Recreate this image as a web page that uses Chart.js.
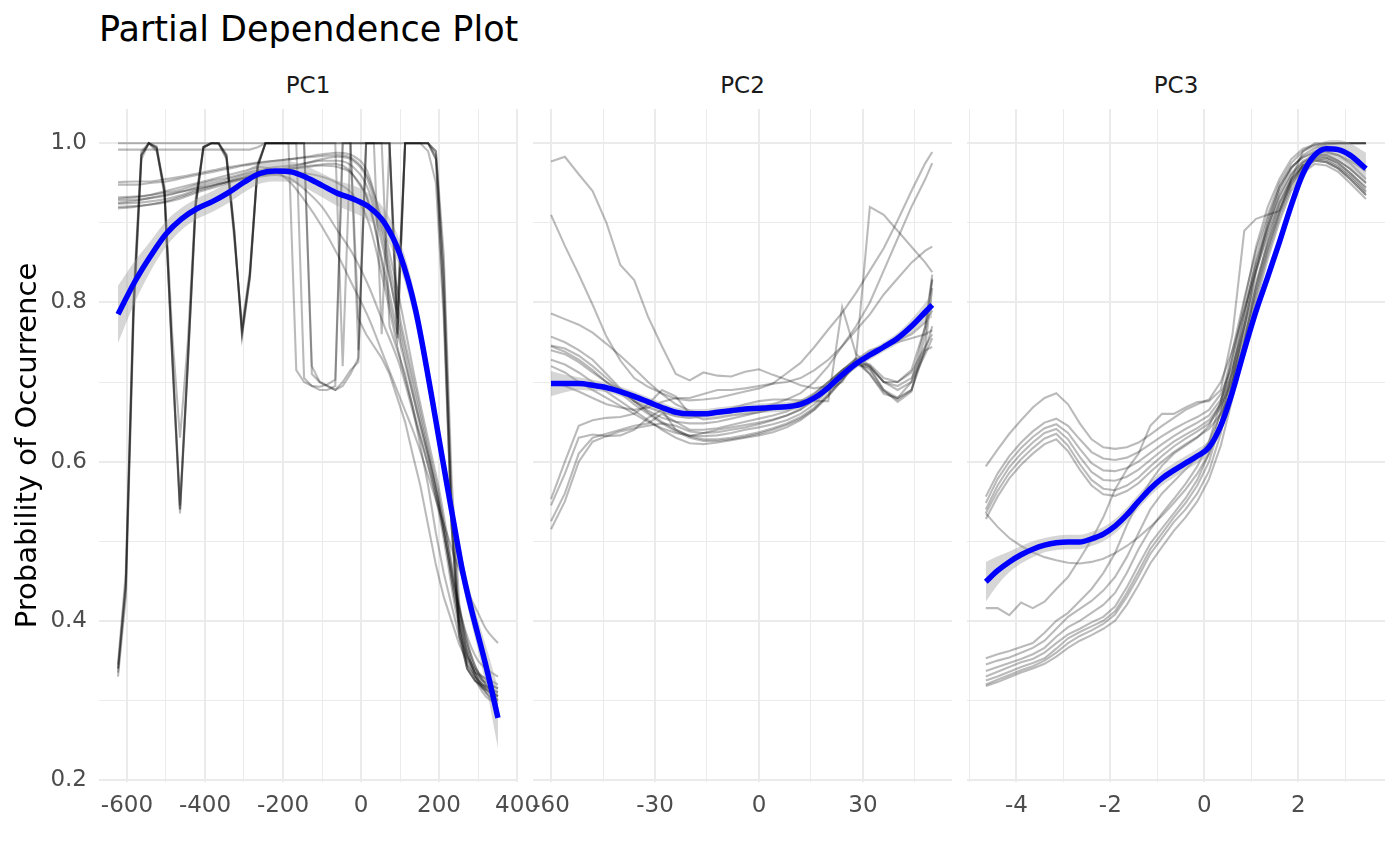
<!DOCTYPE html>
<html><head><meta charset="utf-8">
<script src="https://cdn.jsdelivr.net/npm/chart.js@4.4.1/dist/chart.umd.min.js"></script>
<style>
html,body{margin:0;padding:0;background:#fff;width:1400px;height:865px;overflow:hidden;font-family:"DejaVu Sans",sans-serif;}
.box{position:absolute;top:79px;}
#title{position:absolute;left:99px;top:12px;font-size:35px;color:#000;white-space:nowrap;line-height:35px;}
.strip{position:absolute;top:72px;font-size:23px;color:#1a1a1a;text-align:center;line-height:26px;}
</style></head><body>
<div id="title">Partial Dependence Plot</div>
<div class="strip" style="left:99px;width:418px">PC1</div>
<div class="strip" style="left:533px;width:419px">PC2</div>
<div class="strip" style="left:967px;width:418px">PC3</div>
<div class="box" style="left:0px"><canvas id="c1" width="549" height="751"></canvas></div>
<div class="box" style="left:510px"><canvas id="c2" width="452" height="751"></canvas></div>
<div class="box" style="left:950px"><canvas id="c3" width="445" height="751"></canvas></div>
<script>
// ---------- axis ticks ----------
const Y_TICKS = [0.2,0.3,0.4,0.5,0.6,0.7,0.8,0.9,1.0];
const Y_MAJOR = [0.2,0.4,0.6,0.8,1.0];
const PC1_TICKS = [-600,-500,-400,-300,-200,-100,0,100,200,300,400];
const PC1_MAJOR = [-600,-400,-200,0,200,400];
const PC2_TICKS = [-60,-45,-30,-15,0,15,30,45];
const PC2_MAJOR = [-60,-30,0,30];
const PC3_TICKS = [-5,-4,-3,-2,-1,0,1,2,3];
const PC3_MAJOR = [-4,-2,0,2];

// ---------- PC1 ----------
const PC1_X = [-623,-603,-583,-563,-544,-524,-504,-484,-464,-444,-424,-404,-384,-365,-345,-325,-305,-285,-265,-245,-225,-206,-186,-166,-146,-126,-106,-86,-66,-47,-27,-7,13,33,53,73,93,113,132,152,172,192,212,232,252,272,292,311,331,351];
const PC1_XS = [-623,-580,-540,-500,-460,-420,-380,-340,-300,-260,-220,-180,-140,-100,-60,-20,20,60,100,140,180,200,220,240,260,280,300,320,351];
const PC1_A1 = [0.335,0.44,0.79,0.985,1.0,0.995,0.94,0.73,0.535,0.72,0.92,0.995,1.0,1.0,0.985,0.89,0.757,0.83,0.97,1,1,1,1,0.715,0.70,0.695,0.694,0.697,0.703,1,1,1,1,1,1,1,0.76,1,1,1,1,0.985,0.84,0.55,0.40,0.345,0.33,0.32,0.315,0.31];
const PC1_A2 = [0.34,0.45,0.80,0.985,1.0,0.993,0.935,0.74,0.545,0.73,0.925,0.995,1.0,0.999,0.982,0.885,0.765,0.835,0.972,1,1,1,1,1,0.705,0.695,0.69,0.69,0.695,1,1,1,1,1,0.76,1,0.79,1,1,1,1,0.98,0.80,0.52,0.38,0.34,0.325,0.315,0.31,0.305];
const PC1_A3 = [0.345,0.46,0.81,0.99,1.0,0.99,0.945,0.76,0.63,0.75,0.93,0.996,1.0,1.0,0.98,0.88,0.77,0.84,0.975,1,1,1,1,1,1,1,1,1,1,0.72,1,1,1,1,1,1,0.78,1,1,1,1,0.99,0.86,0.58,0.42,0.355,0.335,0.325,0.32,0.315];
const PC1_A4 = [0.33,0.43,0.78,0.98,1.0,0.996,0.942,0.735,0.54,0.725,0.92,0.994,1.0,1.0,0.986,0.892,0.76,0.832,0.97,1,1,1,1,1,1,1,1,1,1,1,1,0.74,1,1,1,1,0.755,1,1,1,1,0.99,0.83,0.54,0.39,0.34,0.325,0.318,0.312,0.306];
const PC1_B1 = [0.34,0.445,0.795,0.985,1.0,0.994,0.938,0.728,0.54,0.722,0.922,0.995,1.0,1.0,0.984,0.888,0.762,0.834,0.971,1,1,1,1,1,1,0.71,0.70,0.695,0.69,0.70,0.715,0.725,1,1,1,1,1,1,1,1,0.99,0.95,0.78,0.52,0.39,0.345,0.33,0.32,0.315,0.31];
const PC1_D1 = [1,1,1,1,1,1,1,1,1,1,1,1,1,1,1,1,1,1,1,1,1,1,1,1,1,0.72,0.70,0.695,0.69,0.695,0.71,0.73,1,1,1,0.77,0.74,0.71,0.67,0.62,0.57,0.51,0.46,0.42,0.38,0.355,0.34,0.33,0.325,0.32];
const PC1_D2 = [0.992,0.992,0.992,0.992,0.992,0.992,0.992,0.992,0.992,0.992,0.992,0.992,0.992,0.992,0.992,0.992,0.992,0.992,0.995,1,1,1,1,1,1,1,1,1,1,1,1,0.78,0.76,0.745,0.73,0.71,0.68,0.65,0.61,0.57,0.52,0.47,0.43,0.40,0.37,0.35,0.335,0.33,0.32,0.315];
const PC1_C1 = [0.925,0.926,0.927,0.929,0.931,0.933,0.935,0.937,0.939,0.941,0.943,0.945,0.947,0.949,0.951,0.953,0.955,0.957,0.959,0.961,0.963,0.965,0.967,0.969,0.971,0.972,0.973,0.974,0.974,0.972,0.965,0.95,0.935,0.90,0.85,0.80,0.755,1,1,1,1,0.98,0.80,0.52,0.38,0.34,0.325,0.318,0.31,0.305];
const PC1_S1 = [0.951,0.952,0.952,0.955,0.958,0.962,0.966,0.970,0.973,0.976,0.978,0.980,0.982,0.984,0.985,0.980,0.955,0.89,0.80,0.70,0.61,0.565,0.51,0.45,0.40,0.36,0.335,0.32,0.305];
const PC1_S2 = [0.948,0.948,0.950,0.952,0.956,0.960,0.964,0.968,0.972,0.975,0.978,0.980,0.983,0.986,0.988,0.984,0.96,0.88,0.78,0.69,0.60,0.555,0.50,0.44,0.39,0.355,0.33,0.315,0.30];
const PC1_S3 = [0.932,0.933,0.935,0.938,0.942,0.948,0.953,0.957,0.962,0.966,0.970,0.972,0.975,0.978,0.978,0.970,0.94,0.86,0.77,0.68,0.595,0.55,0.50,0.445,0.395,0.36,0.335,0.32,0.30];
const PC1_S4 = [0.928,0.929,0.931,0.934,0.939,0.945,0.950,0.955,0.960,0.963,0.966,0.968,0.970,0.972,0.970,0.960,0.925,0.84,0.75,0.67,0.59,0.545,0.49,0.43,0.38,0.35,0.325,0.31,0.298];
const PC1_S5 = [0.924,0.925,0.927,0.930,0.935,0.942,0.947,0.952,0.957,0.960,0.962,0.963,0.962,0.958,0.950,0.935,0.90,0.82,0.73,0.655,0.58,0.535,0.48,0.42,0.375,0.345,0.32,0.305,0.295];
const PC1_S6 = [0.920,0.921,0.923,0.926,0.931,0.938,0.944,0.950,0.955,0.958,0.960,0.955,0.94,0.92,0.89,0.86,0.82,0.77,0.72,0.65,0.58,0.54,0.49,0.44,0.40,0.37,0.35,0.34,0.33];
const PC1_S7 = [0.930,0.932,0.935,0.940,0.945,0.950,0.955,0.960,0.965,0.970,0.965,0.950,0.925,0.895,0.86,0.82,0.78,0.73,0.68,0.63,0.57,0.54,0.51,0.48,0.455,0.43,0.41,0.39,0.372];
const PC1_S8 = [0.918,0.920,0.923,0.927,0.933,0.940,0.946,0.952,0.957,0.962,0.966,0.970,0.975,0.980,0.983,0.978,0.95,0.87,0.76,0.67,0.59,0.545,0.49,0.43,0.385,0.35,0.325,0.31,0.29];
const PC1_FIT = [0.785,0.826,0.858,0.886,0.905,0.918,0.927,0.938,0.951,0.962,0.965,0.964,0.957,0.947,0.937,0.930,0.920,0.900,0.860,0.790,0.685,0.628,0.572,0.517,0.463,0.420,0.382,0.344,0.278];
const PC1_LO  = [0.749,0.800,0.839,0.870,0.891,0.905,0.914,0.925,0.938,0.949,0.952,0.951,0.943,0.932,0.921,0.913,0.903,0.883,0.843,0.773,0.669,0.612,0.556,0.501,0.447,0.403,0.363,0.319,0.240];
const PC1_HI  = [0.821,0.852,0.877,0.902,0.919,0.931,0.940,0.951,0.964,0.975,0.978,0.977,0.971,0.962,0.953,0.947,0.937,0.917,0.877,0.807,0.701,0.644,0.588,0.533,0.479,0.437,0.401,0.369,0.316];

// ---------- PC2 ----------
const PC2_X = [-60,-56,-52,-48,-44,-40,-36,-32,-28,-24,-20,-16,-12,-8,-4,0,4,8,12,16,20,24,28,32,36,40,44,48,50];
const PC2_P1 = [.977,.983,.961,.94,.90,.847,.828,.782,.745,.71,.702,.712,.708,.707,.713,.716,.709,.703,.696,.692,.695,.705,.72,.735,.745,.752,.76,.775,.79];
const PC2_P2 = [.91,.871,.835,.797,.757,.727,.705,.694,.686,.679,.677,.678,.68,.684,.688,.692,.698,.711,.724,.744,.766,.787,.812,.84,.868,.903,.94,.975,.989];
const PC2_P3 = [.786,.779,.772,.762,.748,.733,.717,.70,.685,.672,.664,.66,.66,.662,.665,.668,.672,.678,.686,.70,.72,.745,.77,.80,.84,.88,.92,.955,.975];
const PC2_P4 = [.757,.75,.74,.728,.71,.692,.676,.664,.655,.65,.648,.648,.65,.654,.658,.662,.666,.67,.675,.68,.69,.70,.73,.92,.91,.89,.87,.85,.838];
const PC2_P5 = [.746,.742,.733,.72,.705,.69,.676,.668,.662,.657,.655,.658,.662,.667,.672,.676,.678,.678,.677,.676,.676,.794,.735,.72,.70,.70,.715,.77,.83];
const PC2_Q1 = [.553,.60,.645,.652,.655,.656,.66,.672,.69,.682,.66,.653,.655,.658,.66,.662,.666,.67,.676,.686,.70,.715,.728,.71,.685,.68,.70,.77,.835];
const PC2_Q2 = [.545,.585,.63,.634,.632,.633,.64,.655,.665,.64,.632,.636,.64,.643,.646,.649,.653,.658,.665,.678,.696,.714,.73,.718,.69,.675,.688,.76,.828];
const PC2_Q3 = [.525,.56,.61,.63,.635,.64,.645,.648,.66,.65,.64,.64,.642,.646,.65,.654,.658,.663,.672,.685,.70,.715,.725,.71,.688,.678,.69,.74,.77];
const PC2_Q4 = [.515,.55,.60,.625,.632,.638,.642,.645,.648,.645,.638,.636,.637,.64,.643,.647,.652,.658,.666,.68,.698,.714,.728,.74,.745,.75,.755,.76,.765];
const PC2_M1 = [.74,.735,.725,.712,.70,.69,.676,.662,.65,.64,.632,.628,.628,.63,.633,.637,.642,.648,.656,.668,.685,.705,.725,.715,.69,.68,.69,.745,.818];
const PC2_M2 = [.728,.722,.712,.70,.688,.676,.664,.652,.64,.63,.623,.622,.624,.627,.63,.633,.637,.643,.652,.665,.682,.702,.722,.718,.70,.695,.705,.74,.744];
const PC2_M3 = [.72,.712,.70,.69,.68,.67,.66,.65,.642,.636,.633,.632,.633,.636,.64,.643,.647,.652,.66,.672,.69,.708,.724,.72,.70,.69,.70,.735,.755];
const PC2_M4 = [.70,.695,.688,.68,.672,.668,.665,.668,.675,.68,.68,.685,.69,.69,.692,.695,.698,.70,.705,.715,.728,.745,.765,.785,.81,.83,.85,.865,.87];
const PC2_M5 = [.745,.738,.728,.715,.70,.686,.672,.66,.648,.638,.63,.626,.626,.628,.631,.635,.64,.646,.654,.666,.683,.703,.724,.722,.705,.70,.712,.745,.76];
const PC2_FIT = [.698,.698,.698,.696,.693,.688,.682,.675,.668,.662,.660,.660,.662,.664,.666,.667,.668,.669,.672,.680,.693,.709,.723,.734,.744,.755,.770,.788,.797];
const PC2_LO  = [.682,.687,.690,.689,.687,.682,.676,.669,.662,.656,.654,.654,.656,.658,.660,.661,.662,.663,.666,.674,.687,.703,.717,.728,.738,.748,.761,.776,.781];
const PC2_HI  = [.714,.709,.706,.703,.699,.694,.688,.681,.674,.668,.666,.666,.668,.670,.672,.673,.674,.675,.678,.686,.699,.715,.729,.740,.750,.762,.779,.800,.813];

// ---------- PC3 ----------
const PC3_X = [-4.65,-4.4,-4.15,-3.9,-3.65,-3.4,-3.15,-2.9,-2.65,-2.4,-2.15,-1.9,-1.65,-1.4,-1.15,-0.9,-0.65,-0.4,-0.15,0.1,0.35,0.6,0.85,1.1,1.35,1.6,1.85,2.1,2.35,2.6,2.85,3.1,3.44];
const PC3_U1 = [.594,.615,.635,.652,.668,.68,.686,.672,.648,.628,.618,.616,.618,.624,.634,.645,.655,.665,.672,.678,.70,.74,.79,.84,.885,.925,.955,.975,.985,.985,.978,.968,.95];
const PC3_U2 = [.556,.585,.607,.624,.638,.649,.654,.645,.628,.612,.604,.602,.605,.612,.622,.632,.641,.649,.656,.665,.685,.72,.77,.825,.875,.918,.952,.972,.98,.98,.972,.96,.94];
const PC3_U3 = [.548,.578,.60,.617,.631,.642,.647,.636,.616,.598,.589,.588,.592,.60,.611,.622,.632,.641,.649,.658,.678,.712,.762,.818,.87,.915,.95,.972,.982,.982,.975,.963,.945];
const PC3_U4 = [.54,.57,.593,.61,.624,.636,.641,.628,.606,.587,.577,.576,.581,.59,.602,.614,.625,.634,.642,.652,.672,.705,.755,.812,.866,.912,.948,.97,.98,.978,.97,.958,.938];
const PC3_U5 = [.535,.563,.586,.603,.617,.629,.635,.62,.597,.577,.566,.564,.57,.58,.594,.607,.619,.629,.638,.648,.668,.70,.75,.808,.862,.908,.945,.968,.978,.976,.968,.955,.935];
const PC3_U6 = [.528,.556,.579,.596,.61,.622,.628,.613,.59,.57,.559,.557,.563,.573,.587,.60,.612,.622,.631,.641,.66,.69,.74,.80,.855,.902,.94,.963,.974,.972,.964,.95,.93];
const PC3_ARC = [.535,.518,.504,.494,.486,.48,.476,.473,.472,.474,.478,.485,.494,.505,.518,.532,.548,.565,.585,.61,.65,.705,.77,.84,.90,.945,.97,.982,.988,.988,.985,.978,.965];
const PC3_STEP = [.416,.416,.407,.423,.416,.424,.44,.455,.478,.502,.53,.565,.59,.61,.645,.66,.66,.668,.675,.676,.69,.76,.89,.905,.91,.915,.955,.99,1,1,1,1,1];
const PC3_L1 = [.353,.358,.362,.367,.372,.385,.40,.41,.425,.44,.46,.485,.52,.55,.575,.595,.61,.62,.63,.645,.675,.73,.80,.87,.92,.955,.98,.993,.998,1,1,1,1];
const PC3_L2 = [.337,.342,.347,.352,.358,.366,.38,.392,.40,.41,.42,.435,.46,.49,.515,.535,.553,.572,.594,.625,.675,.74,.805,.865,.91,.95,.975,.99,.997,1,1,1,1];
const PC3_L3 = [.33,.336,.342,.348,.352,.36,.372,.383,.39,.398,.405,.418,.442,.47,.497,.516,.535,.554,.577,.61,.665,.73,.79,.85,.895,.94,.968,.985,.994,.998,1,1,1];
const PC3_L4 = [.325,.33,.336,.342,.347,.353,.365,.378,.386,.393,.40,.412,.435,.462,.49,.51,.53,.548,.57,.60,.65,.715,.78,.845,.895,.935,.962,.978,.985,.985,.978,.968,.95];
const PC3_L5 = [.32,.326,.332,.338,.343,.35,.36,.372,.381,.388,.396,.408,.43,.456,.484,.504,.524,.54,.56,.588,.635,.70,.77,.838,.89,.932,.96,.976,.983,.982,.975,.963,.943];
const PC3_L6 = [.318,.323,.329,.335,.34,.346,.355,.366,.375,.382,.39,.40,.42,.445,.472,.493,.513,.53,.55,.578,.62,.68,.75,.82,.878,.925,.955,.972,.978,.976,.968,.955,.935];
const PC3_L7 = [.345,.35,.354,.36,.366,.375,.39,.405,.415,.425,.438,.455,.48,.51,.54,.56,.575,.59,.605,.625,.66,.715,.785,.855,.905,.945,.97,.983,.99,.99,.985,.975,.955];
const PC3_FIT = [.449,.463,.474,.483,.49,.495,.498,.499,.499,.503,.509,.519,.533,.55,.566,.579,.589,.598,.607,.618,.645,.688,.74,.789,.832,.876,.922,.962,.985,.993,.992,.985,.968];
const PC3_LO  = [.424,.445,.461,.472,.48,.486,.489,.49,.49,.494,.50,.51,.524,.541,.557,.57,.58,.589,.598,.609,.636,.679,.731,.78,.823,.867,.913,.953,.976,.983,.98,.97,.948];
const PC3_HI  = [.474,.481,.487,.494,.50,.504,.507,.508,.508,.512,.518,.528,.542,.559,.575,.588,.598,.607,.616,.627,.654,.697,.749,.798,.841,.885,.931,.971,.994,1.003,1.004,1.0,.988];

// ---------- helpers ----------
const GRID = '#ebebeb';
const FONT = 'DejaVu Sans';
const near = (arr, v) => arr.some(m => Math.abs(m - v) < 1e-6);
const pts = (xs, ys) => xs.map((x, i) => ({x: x, y: ys[i]}));
function ice(xs, ys, smooth) {
  return {data: pts(xs, ys), borderColor: 'rgba(0,0,0,0.27)', borderWidth: 2.1, pointRadius: 0,
          fill: false, tension: 0, cubicInterpolationMode: smooth ? 'monotone' : 'default', order: 2};
}
function fitSets(xs, fit, lo, hi) {
  return [
    {data: pts(xs, fit), borderColor: '#0000ff', borderWidth: 5.5, pointRadius: 0, fill: false, cubicInterpolationMode: 'monotone', order: 0},
    {data: pts(xs, hi), borderColor: 'rgba(0,0,0,0)', borderWidth: 0, pointRadius: 0, backgroundColor: 'rgba(153,153,153,0.4)', fill: '+1', cubicInterpolationMode: 'monotone', order: 1},
    {data: pts(xs, lo), borderColor: 'rgba(0,0,0,0)', borderWidth: 0, pointRadius: 0, fill: false, cubicInterpolationMode: 'monotone', order: 1}
  ];
}
function makeChart(id, datasets, xr, xTicks, xMajor, showY, pad, yW) {
  return new Chart(document.getElementById(id), {
    type: 'line',
    data: {datasets: datasets},
    options: {
      responsive: false, animation: false, events: [],
      layout: {padding: pad},
      plugins: {legend: {display: false}, tooltip: {enabled: false}},
      scales: {
        x: {
          type: 'linear', min: xr[0], max: xr[1], bounds: 'data',
          afterBuildTicks: s => { s.ticks = xTicks.map(v => ({value: v})); },
          ticks: {autoSkip: false, maxRotation: 0, padding: 10, color: '#4d4d4d', font: {family: FONT, size: 23},
                  callback: v => near(xMajor, v) ? String(v) : ''},
          grid: {color: GRID, drawTicks: false, lineWidth: c => (c.tick && near(xMajor, c.tick.value)) ? 2 : 1},
          border: {display: false},
          afterFit: s => { s.height = 48; }
        },
        y: {
          type: 'linear', min: 0.1975, max: 1.043, bounds: 'data',
          afterBuildTicks: s => { s.ticks = Y_TICKS.map(v => ({value: v})); },
          ticks: {display: showY, padding: 12, color: '#4d4d4d', font: {family: FONT, size: 23},
                  callback: v => near(Y_MAJOR, v) ? v.toFixed(1) : ''},
          grid: {color: GRID, drawTicks: false, lineWidth: c => (c.tick && near(Y_MAJOR, c.tick.value)) ? 2 : 1},
          border: {display: false},
          title: {display: showY, text: 'Probability of Occurrence', color: '#000', font: {family: FONT, size: 29}, padding: {top: 11, bottom: 0}},
          afterFit: s => { s.width = yW; }
        }
      }
    }
  });
}

// ---------- build ----------
const pc1Sets = fitSets(PC1_XS, PC1_FIT, PC1_LO, PC1_HI)
  .concat([PC1_S1, PC1_S2, PC1_S3, PC1_S4, PC1_S5, PC1_S6, PC1_S7, PC1_S8].map(s => ice(PC1_XS, s, true)))
  .concat([PC1_A1, PC1_A2, PC1_A3, PC1_A4, PC1_B1, PC1_D1, PC1_D2, PC1_C1].map(s => ice(PC1_X, s, false)));
const pc2Sets = fitSets(PC2_X, PC2_FIT, PC2_LO, PC2_HI)
  .concat([PC2_P1, PC2_P2, PC2_P3, PC2_P4, PC2_P5, PC2_Q1, PC2_Q2, PC2_Q3, PC2_Q4, PC2_M1, PC2_M2, PC2_M3, PC2_M4, PC2_M5].map(s => ice(PC2_X, s, false)));
const pc3Sets = fitSets(PC3_X, PC3_FIT, PC3_LO, PC3_HI)
  .concat([PC3_U1, PC3_U2, PC3_U3, PC3_U4, PC3_U5, PC3_U6, PC3_ARC, PC3_STEP, PC3_L1, PC3_L2, PC3_L3, PC3_L4, PC3_L5, PC3_L6, PC3_L7].map(s => ice(PC3_X, s, false)));

const PAD_TOP = 30;
makeChart('c1', pc1Sets, [-671.7, 399.7], PC1_TICKS, PC1_MAJOR, true, {left: 0, right: 32, top: PAD_TOP, bottom: 0}, 99);
makeChart('c2', pc2Sets, [-65.2, 55.7], PC2_TICKS, PC2_MAJOR, false, {left: 23, right: 10, top: PAD_TOP, bottom: 0}, 0);
makeChart('c3', pc3Sets, [-5.05, 3.845], PC3_TICKS, PC3_MAJOR, false, {left: 17, right: 10, top: PAD_TOP, bottom: 0}, 0);
</script>
</body></html>
